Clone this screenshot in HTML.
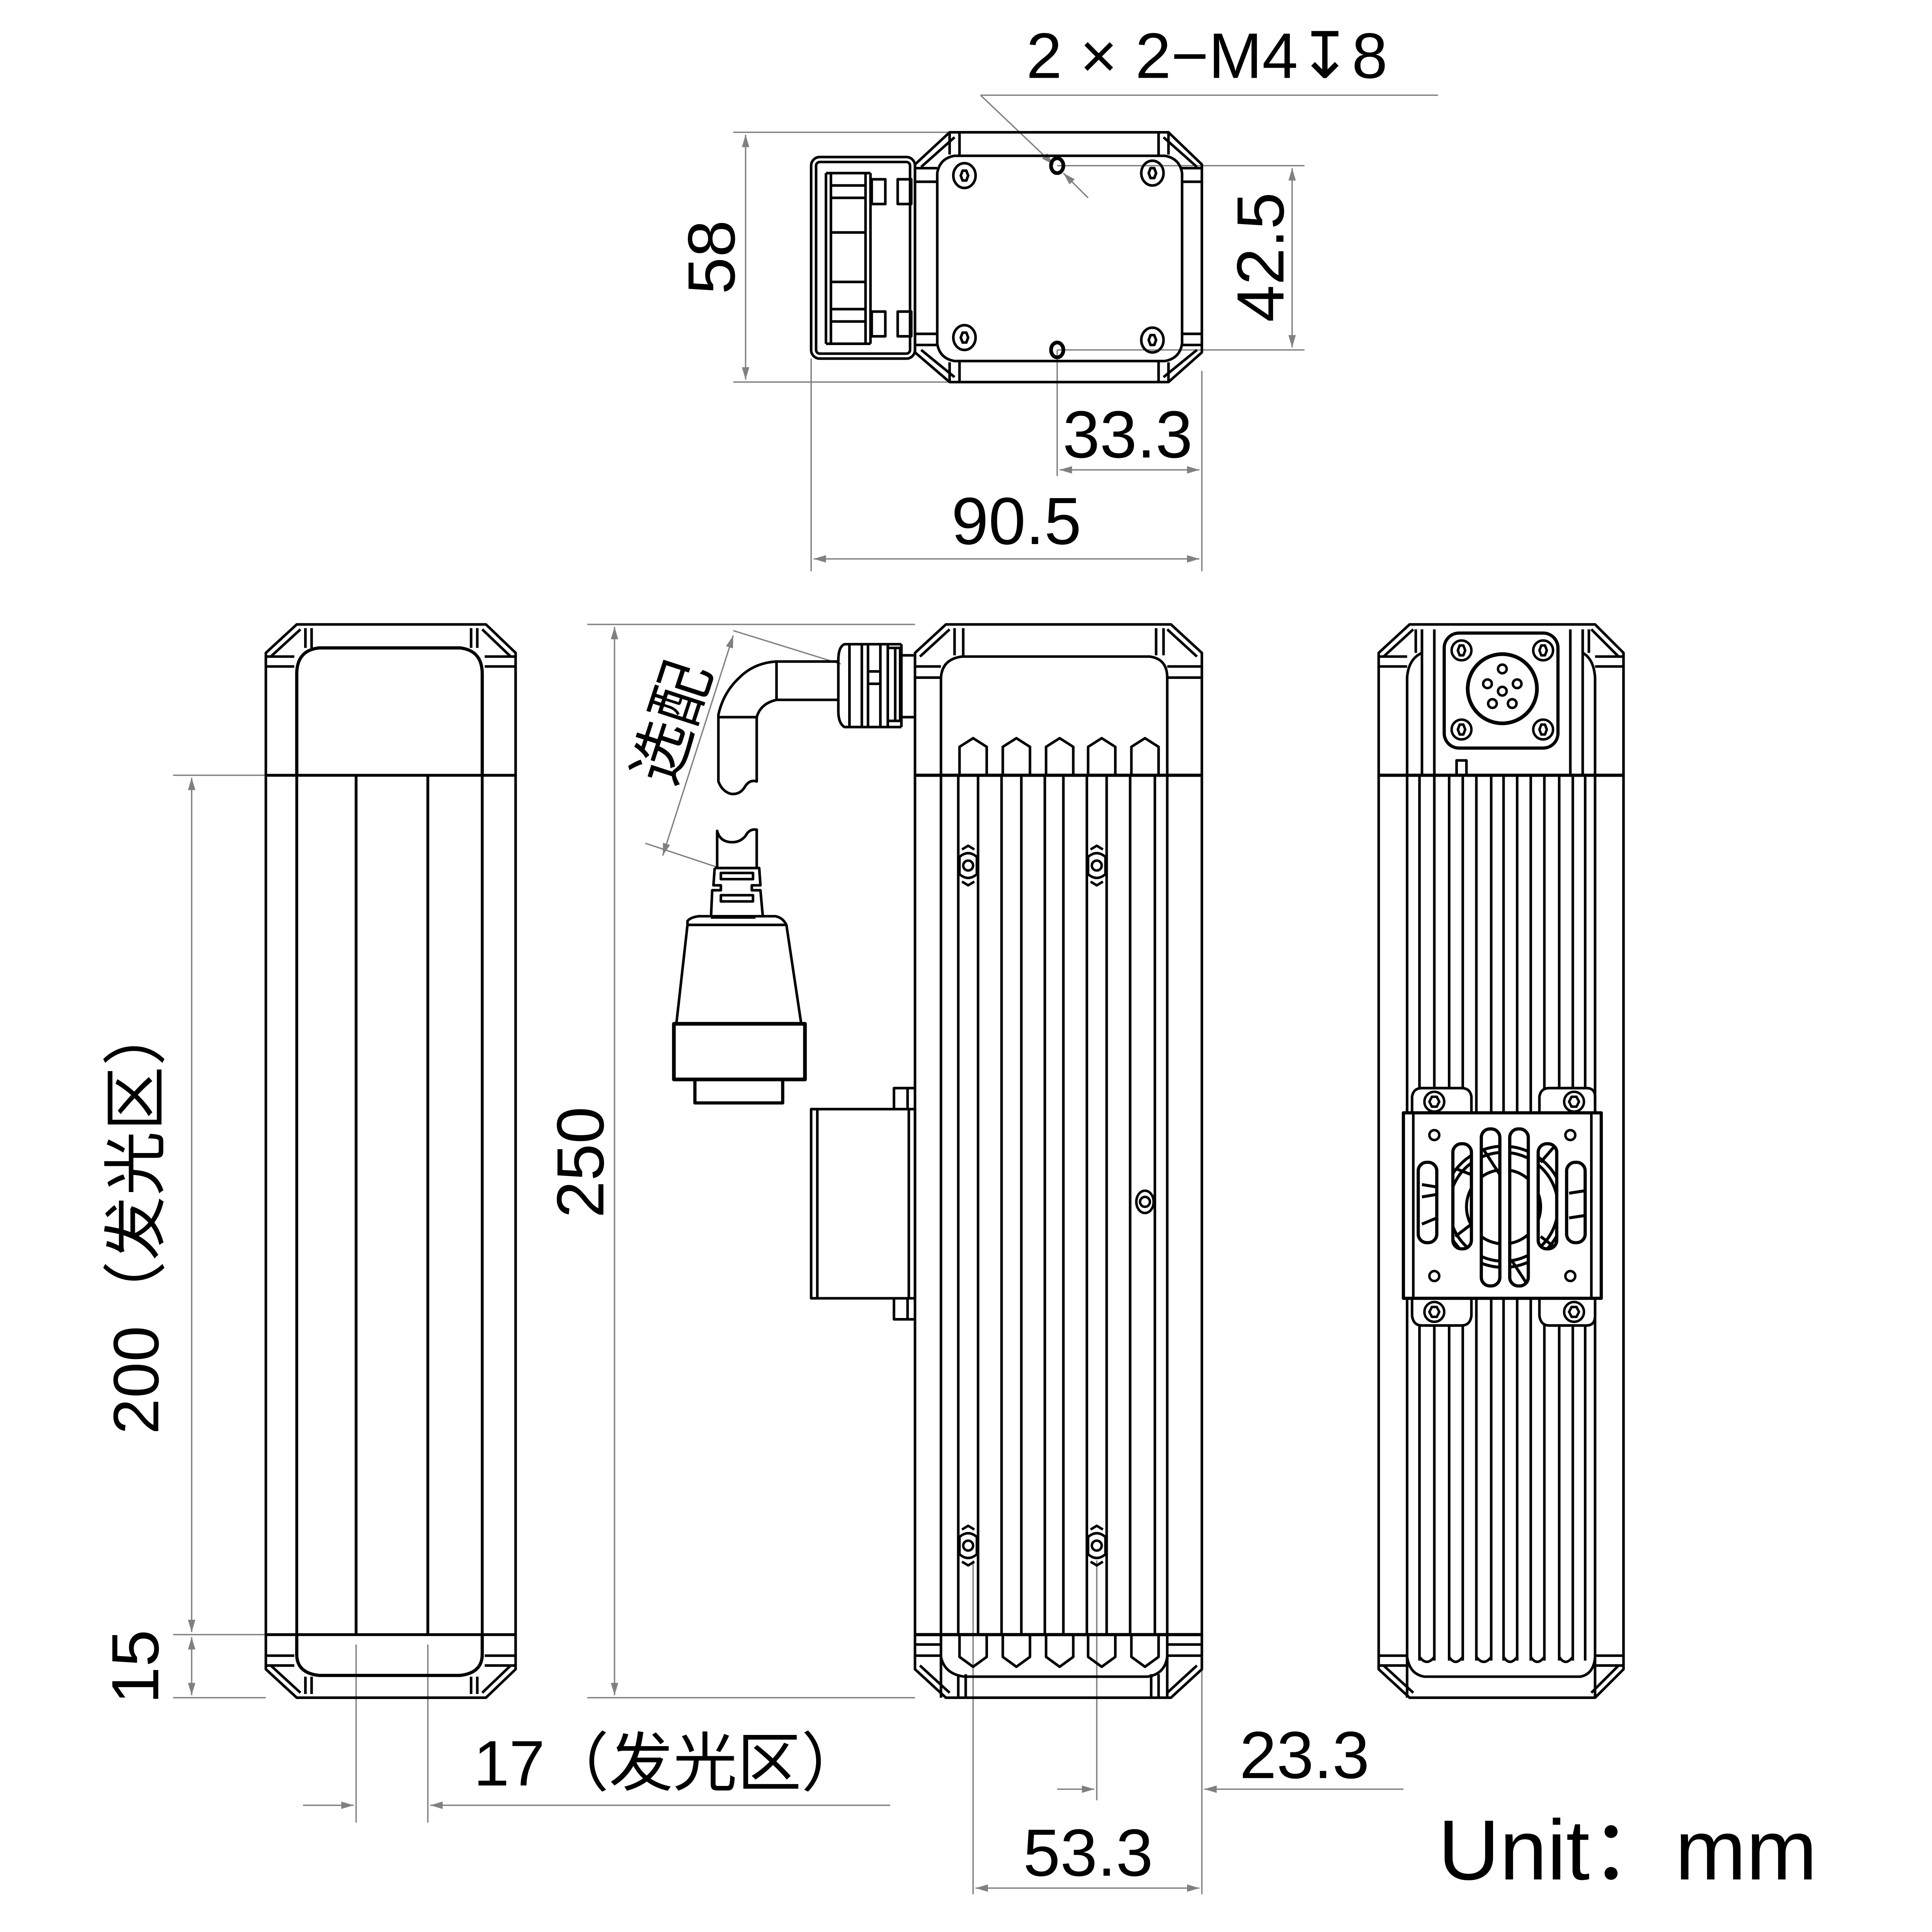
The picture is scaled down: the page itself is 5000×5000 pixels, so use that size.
<!DOCTYPE html>
<html><head><meta charset="utf-8"><style>
html,body{margin:0;padding:0;background:#fff;}
svg{display:block;}
text{font-family:"Liberation Sans","Noto Sans CJK SC",sans-serif;fill:#000;}
</style></head><body>
<svg width="5000" height="5000" viewBox="0 0 1562.5 1562.5" xmlns="http://www.w3.org/2000/svg">
<defs>
<marker id="ar" viewBox="0 0 10 10" refX="10" refY="5" markerWidth="14" markerHeight="10" markerUnits="userSpaceOnUse" orient="auto-start-reverse"><path d="M0,2 L10,5 L0,8 z" fill="#808080"/></marker>
<clipPath id="slots"><rect x="1147" y="940" width="15" height="65" rx="7"/><rect x="1175" y="925" width="15" height="85" rx="7"/><rect x="1198" y="913" width="15" height="127" rx="7"/><rect x="1221" y="913" width="15" height="127" rx="7"/><rect x="1244" y="925" width="15" height="85" rx="7"/><rect x="1267" y="940" width="15" height="65" rx="7"/></clipPath>
</defs>
<rect width="1562.5" height="1562.5" fill="#fff"/>

<g stroke="#808080" stroke-width="1.1" fill="none">
 <line x1="593" y1="107" x2="768" y2="107"/><line x1="593" y1="309" x2="768" y2="309"/>
 <line x1="603" y1="109" x2="603" y2="307" marker-start="url(#ar)" marker-end="url(#ar)"/>
 <line x1="855" y1="134" x2="1055" y2="134"/><line x1="945" y1="283" x2="1055" y2="283"/><line x1="855" y1="283" x2="945" y2="283"/>
 <line x1="1045" y1="136" x2="1045" y2="281" marker-start="url(#ar)" marker-end="url(#ar)"/>
 <line x1="855" y1="283" x2="855" y2="385"/><line x1="972" y1="300" x2="972" y2="462"/><line x1="656" y1="290" x2="656" y2="462"/>
 <line x1="857" y1="380" x2="970" y2="380" marker-start="url(#ar)" marker-end="url(#ar)"/>
 <line x1="658" y1="452" x2="970" y2="452" marker-start="url(#ar)" marker-end="url(#ar)"/>
 <line x1="793" y1="77" x2="1163" y2="77"/>
 <line x1="793" y1="77" x2="852" y2="133" marker-end="url(#ar)"/>
 <line x1="880" y1="160" x2="860" y2="140" marker-end="url(#ar)"/>
 <line x1="475" y1="505" x2="740" y2="505"/><line x1="475" y1="1373" x2="740" y2="1373"/>
 <line x1="497" y1="507" x2="497" y2="1371" marker-start="url(#ar)" marker-end="url(#ar)"/>
 <line x1="593" y1="510" x2="680" y2="537"/><line x1="522" y1="682" x2="582" y2="702"/>
 <line x1="593" y1="514" x2="536" y2="692" marker-start="url(#ar)" marker-end="url(#ar)"/>
 <line x1="140" y1="627" x2="215" y2="627"/><line x1="140" y1="1322" x2="215" y2="1322"/><line x1="140" y1="1373" x2="215" y2="1373"/>
 <line x1="155" y1="629" x2="155" y2="1320" marker-start="url(#ar)" marker-end="url(#ar)"/>
 <line x1="155" y1="1324" x2="155" y2="1371" marker-start="url(#ar)" marker-end="url(#ar)"/>
 <line x1="288" y1="1330" x2="288" y2="1474"/><line x1="346" y1="1330" x2="346" y2="1474"/>
 <line x1="245" y1="1460" x2="286" y2="1460" marker-end="url(#ar)"/>
 <line x1="720" y1="1460" x2="348" y2="1460" marker-end="url(#ar)"/>
 <line x1="887" y1="1262" x2="887" y2="1456"/><line x1="787" y1="1262" x2="787" y2="1532"/><line x1="972" y1="1330" x2="972" y2="1532"/>
 <line x1="855" y1="1447" x2="885" y2="1447" marker-end="url(#ar)"/>
 <line x1="1135" y1="1447" x2="974" y2="1447" marker-end="url(#ar)"/>
 <line x1="789" y1="1527" x2="970" y2="1527" marker-start="url(#ar)" marker-end="url(#ar)"/>
</g>

<g font-size="54">
 <text x="830" y="63" font-size="52">2 × 2−M4<tspan font-family="DejaVu Sans">↧</tspan>8</text>
 <text transform="translate(594,208) rotate(-90)" text-anchor="middle">58</text>
 <text transform="translate(1038,208) rotate(-90)" text-anchor="middle">42.5</text>
 <text x="912" y="370" text-anchor="middle">33.3</text>
 <text x="822" y="440" text-anchor="middle">90.5</text>
 <text transform="translate(488,940) rotate(-90)" text-anchor="middle">250</text>
 <text transform="translate(128,985) rotate(-90)" text-anchor="middle" font-size="52" textLength="350" lengthAdjust="spacing">200（发光区）</text>
 <text transform="translate(128,1348) rotate(-90)" text-anchor="middle">15</text>
 <text x="383" y="1444" font-size="52" textLength="317" lengthAdjust="spacing">17（发光区）</text>
 <text x="1055" y="1438" text-anchor="middle">23.3</text>
 <text x="880" y="1517" text-anchor="middle">53.3</text>
 <text x="1163" y="1520" font-size="69">Unit：mm</text>
 <text transform="translate(560,590) rotate(-72)" text-anchor="middle" font-size="50">选配</text>
</g>

<g stroke="#000" stroke-width="2.1" fill="none" stroke-linejoin="round">
 <path d="M768,107 H945 L972,133 V285 L945,309 H768 L740,285 V133 Z"/>
 <path d="M772,111 L745,135 M941,111 L968,135 M772,305 L745,283 M941,305 L968,283"/>
 <path d="M772,126 H942 Q954,128 956,140 V278 Q954,290 942,292 H772 Q760,290 758,278 V140 Q760,128 772,126 Z"/>
 <path d="M768,108 V125 M776,108 V125 M937,108 V125 M945,108 V125 M768,293 V308 M776,293 V308 M937,293 V308 M945,293 V308"/>
 <path d="M741,136 H758 M741,147 H758 M955,136 H971 M955,147 H971 M741,270 H758 M741,279 H758 M955,270 H971 M955,279 H971"/>
 <g>
  <ellipse cx="780" cy="142" rx="9" ry="10"/><ellipse cx="932" cy="140" rx="9" ry="10"/><ellipse cx="780" cy="273" rx="9" ry="10"/><ellipse cx="932" cy="275" rx="9" ry="10"/>
  <path d="M777,142 l1.5,-4 h3 l1.5,4 l-1.5,4 h-3 z M929,140 l1.5,-4 h3 l1.5,4 l-1.5,4 h-3 z M777,273 l1.5,-4 h3 l1.5,4 l-1.5,4 h-3 z M929,275 l1.5,-4 h3 l1.5,4 l-1.5,4 h-3 z"/>
  <ellipse cx="855" cy="134" rx="5" ry="6" stroke-width="3"/><ellipse cx="855" cy="283" rx="5" ry="6" stroke-width="3"/>
 </g>
 <rect x="656" y="127" width="84" height="163" rx="7"/>
 <rect x="660" y="131" width="76" height="155" rx="3"/>
 <path d="M668,140 V278 M672,140 V278 M700,140 V278 M704,140 V278 M668,140 H704 M668,278 H704 M672,150 H700 M672,160 H700 M672,188 H700 M672,228 H700 M672,250 H700 M672,260 H700"/>
 <path d="M705,145 H716 V165 H705 Z M726,145 H737 V165 H726 Z M705,252 H716 V272 H705 Z M726,252 H737 V272 H726 Z"/>

 <path d="M240,505 H393 L417,528 V1350 L393,1373 H240 L215,1350 V528 Z"/>
 <path d="M243,509 L219,531 M390,509 L413,531 M243,1369 L219,1347 M390,1369 L413,1347"/>
 <path d="M215,531 H238 M215,539 H238 M392,531 H417 M392,539 H417 M215,1339 H238 M215,1347 H238 M392,1339 H417 M392,1347 H417"/>
 <path d="M247,508 V524 M252,508 V524 M381,508 V524 M386,508 V524 M247,1356 V1370 M252,1356 V1370 M381,1356 V1370 M386,1356 V1370"/>
 <path d="M240,627 V545 Q240,526 258,524 H372 Q390,526 390,545 V627" stroke-width="2.6"/>
 <path d="M240,1322 V1338 Q240,1353 258,1355 H372 Q390,1353 390,1338 V1322" stroke-width="2.6"/>
 <path d="M215,627 H417 M215,1322 H417 M240,627 V1322 M390,627 V1322 M288,627 V1322 M346,627 V1322" stroke-width="2.3"/>

 <path d="M765,505 H947 L972,528 V1350 L947,1373 H765 L740,1350 V528 Z"/>
 <path d="M768,509 L744,531 M944,509 L968,531 M768,1369 L744,1347 M944,1369 L968,1347"/>
 <path d="M741,539 H761 M741,548 H761 M944,539 H971 M944,548 H971 M741,1330 H761 M741,1339 H761 M944,1330 H971 M944,1339 H971"/>
 <path d="M772,508 V530 M779,508 V530 M935,508 V530 M941,508 V530 M775,1354 V1372 M781,1354 V1372 M931,1354 V1372 M937,1354 V1372"/>
 <path d="M761,1373 V548 Q762,533 778,531 H930 Q944,533 944,548 V1373" />
 <path d="M761,1340 Q764,1354 780,1356 H928 Q942,1354 944,1340"/>
 <path d="M740,627 H972 M740,1322 H972" stroke-width="2.6"/>
 <path d="M775,627 V1322 M791,627 V1322 M810,627 V1322 M826,627 V1322 M845,627 V1322 M860,627 V1322 M879,627 V1322 M895,627 V1322 M914,627 V1322 M934,627 V1322"/>
 <path d="M776,627 V604 L787,597 L798,604 V627 M811,627 V604 L822,597 L833,604 V627 M846,627 V604 L857,597 L868,604 V627 M880,627 V604 L891,597 L902,604 V627 M915,627 V604 L926,597 L937,604 V627"/>
 <path d="M776,1322 V1340 L787,1348 L798,1340 V1322 M811,1322 V1340 L822,1348 L833,1340 V1322 M846,1322 V1340 L857,1348 L868,1340 V1322 M880,1322 V1340 L891,1348 L902,1340 V1322 M915,1322 V1340 L926,1348 L937,1340 V1322"/>
 <g stroke-width="2">
  <circle cx="783" cy="700" r="4"/><path d="M776,693 Q783,687 790,693 V707 Q783,713 776,707 Z M778,687 L783,684 L788,687 M778,713 L783,716 L788,713"/>
  <circle cx="887" cy="700" r="4"/><path d="M880,693 Q887,687 894,693 V707 Q887,713 880,707 Z M882,687 L887,684 L892,687 M882,713 L887,716 L892,713"/>
  <circle cx="783" cy="1250" r="4"/><path d="M776,1243 Q783,1237 790,1243 V1257 Q783,1263 776,1257 Z M778,1237 L783,1234 L788,1237 M778,1263 L783,1266 L788,1263"/>
  <circle cx="887" cy="1250" r="4"/><path d="M880,1243 Q887,1237 894,1243 V1257 Q887,1263 880,1257 Z M882,1237 L887,1234 L892,1237 M882,1263 L887,1266 L892,1263"/>
  <circle cx="926" cy="972" r="4"/><ellipse cx="926" cy="972" rx="7" ry="9"/>
 </g>
 <path d="M656,897 H740 V1050 H656 Z M661,897 V1050 M735,897 V1050"/>
 <path d="M723,897 V880 H740 M723,1050 V1067 H740 M734,880 V897 M734,1050 V1067"/>
 <path d="M683,521 H718 V588 H683 Q678,585 678,575 V534 Q678,523 683,521 Z"/>
 <path d="M687,521 V588 M697,521 V588 M702,521 V588 M712,521 V588 M702,543 H712 M702,553 H712 M718,524 H728 V583 H718 M724,524 V583 M729,521 V588 M718,521 H729 M718,588 H729 M729,530 H740 M729,580 H740"/>
 <path d="M678,535 H628 Q610,536 598,548 Q585,560 581,578 V632 Q584,640 591,642 Q598,643 602,637 Q606,630 612,632 V580 Q615,569 628,566 H678"/>
 <path d="M628,535 V566 M581,580 H612"/>
 <path d="M580,672 Q582,680 590,681 Q598,682 603,676 Q606,670 612,671 V702 H580 Z"/>
 <path d="M578,702 H614 L615,716 H608 V720 H615 L617,742 M578,702 L577,716 H583 V720 H576 L575,742"/>
 <path d="M583,706 H609 V711 H583 Z M583,724 H609 V729 H583 Z"/>
 <path d="M575,742 H611 M556,745 Q558,742 565,741 H627 Q633,742 636,748 L648,828 H547 L556,748 Z M556,748 H636"/>
 <path d="M545,828 H651 V873 H545 Z" stroke-width="3"/>
 <path d="M562,873 V892 H633 V873" stroke-width="2.6"/>

 <path d="M1140,505 H1290 L1313,528 V1350 L1290,1373 H1140 L1115,1350 V528 Z"/>
 <path d="M1143,509 L1119,531 M1287,509 L1309,531 M1143,1369 L1119,1347 M1287,1369 L1309,1347"/>
 <path d="M1115,531 H1138 M1115,539 H1138 M1290,531 H1313 M1290,539 H1313 M1115,1339 H1138 M1115,1347 H1138 M1290,1339 H1313 M1290,1347 H1313"/>
 <path d="M1138,1373 V548 Q1139,533 1150,528 V509 M1290,1373 V548 Q1289,533 1280,528 V509 M1145,509 V528 M1285,509 V528"/>
 <path d="M1150,627 V509 M1160,627 V509 M1270,627 V509 M1280,627 V509"/>
 <path d="M1115,627 H1313" stroke-width="2.6"/>
 <rect x="1168" y="512" width="92" height="93" rx="12" stroke-width="2.6"/>
 <circle cx="1215" cy="557" r="28" stroke-width="3"/>
 <g stroke-width="2">
  <circle cx="1182" cy="526" r="8"/><circle cx="1248" cy="526" r="8"/><circle cx="1182" cy="590" r="8"/><circle cx="1248" cy="590" r="8"/>
  <path d="M1179,526 l1.5,-4 h3 l1.5,4 l-1.5,4 h-3 z M1245,526 l1.5,-4 h3 l1.5,4 l-1.5,4 h-3 z M1179,590 l1.5,-4 h3 l1.5,4 l-1.5,4 h-3 z M1245,590 l1.5,-4 h3 l1.5,4 l-1.5,4 h-3 z"/>
  <circle cx="1215" cy="541" r="3.5"/><circle cx="1203" cy="553" r="3.5"/><circle cx="1227" cy="553" r="3.5"/><circle cx="1215" cy="559" r="3.5"/><circle cx="1207" cy="569" r="3.5"/><circle cx="1223" cy="569" r="3.5"/>
 </g>
 <path d="M1178,627 V615 H1186 V627"/>
 <path d="M1148,627 V1343 M1160,627 V1343 M1172,627 V1343 M1183,627 V1343 M1194,627 V1343 M1206,627 V1343 M1216,627 V1343 M1227,627 V1343 M1238,627 V1343 M1249,627 V1343 M1261,627 V1343 M1272,627 V1343 M1282,627 V1343" stroke-width="2.1"/>
 <path d="M1148,1340 Q1154,1348 1160,1340 M1172,1340 Q1177,1348 1183,1340 M1194,1340 Q1200,1348 1206,1340 M1216,1340 Q1221,1348 1227,1340 M1238,1340 Q1243,1348 1249,1340 M1261,1340 Q1266,1348 1272,1340"/>
 <path d="M1138,1340 Q1140,1354 1152,1356 H1278 Q1289,1354 1290,1340"/>
 <path d="M1142,905 V887 Q1143,880 1150,880 H1182 Q1189,880 1190,887 V905 M1245,905 V887 Q1246,880 1253,880 H1283 Q1290,880 1290,887 V905" fill="#fff"/>
 <path d="M1142,1045 V1064 Q1143,1072 1150,1072 H1182 Q1189,1072 1190,1064 V1045 M1245,1045 V1064 Q1246,1072 1253,1072 H1283 Q1290,1072 1290,1064 V1045" fill="#fff"/>
 <rect x="1135" y="900" width="160" height="150" fill="#fff" stroke-width="2.6"/>
 <path d="M1143,900 V1050 M1287,900 V1050"/>
 <g stroke-width="2">
  <circle cx="1160" cy="891" r="8" fill="#fff"/><circle cx="1273" cy="891" r="8" fill="#fff"/><circle cx="1160" cy="1061" r="8" fill="#fff"/><circle cx="1273" cy="1061" r="8" fill="#fff"/>
  <path d="M1156,891 l2,-4 h4 l2,4 l-2,4 h-4 z M1269,891 l2,-4 h4 l2,4 l-2,4 h-4 z M1156,1061 l2,-4 h4 l2,4 l-2,4 h-4 z M1269,1061 l2,-4 h4 l2,4 l-2,4 h-4 z"/>
  <circle cx="1160" cy="918" r="4"/><circle cx="1270" cy="918" r="4"/><circle cx="1160" cy="1032" r="4"/><circle cx="1270" cy="1032" r="4"/>
 </g>
 <g clip-path="url(#slots)" stroke-width="2.4">
  <circle cx="1216" cy="976" r="44"/><circle cx="1216" cy="976" r="49"/><circle cx="1216" cy="976" r="30"/>
  <path d="M1150,958 L1162,960 M1150,968 L1162,966 M1150,990 L1162,985 M1177,945 L1190,950 M1177,1000 L1190,990 M1200,930 L1213,950 M1223,1020 L1236,1040 M1246,940 L1259,925 M1246,1000 L1259,1010 M1269,965 L1282,963 M1269,985 L1282,983"/>
 </g>
 <g stroke-width="2.6"><rect x="1147" y="940" width="15" height="65" rx="7"/><rect x="1175" y="925" width="15" height="85" rx="7"/><rect x="1198" y="913" width="15" height="127" rx="7"/><rect x="1221" y="913" width="15" height="127" rx="7"/><rect x="1244" y="925" width="15" height="85" rx="7"/><rect x="1267" y="940" width="15" height="65" rx="7"/></g>
</g>
</svg>
</body></html>
